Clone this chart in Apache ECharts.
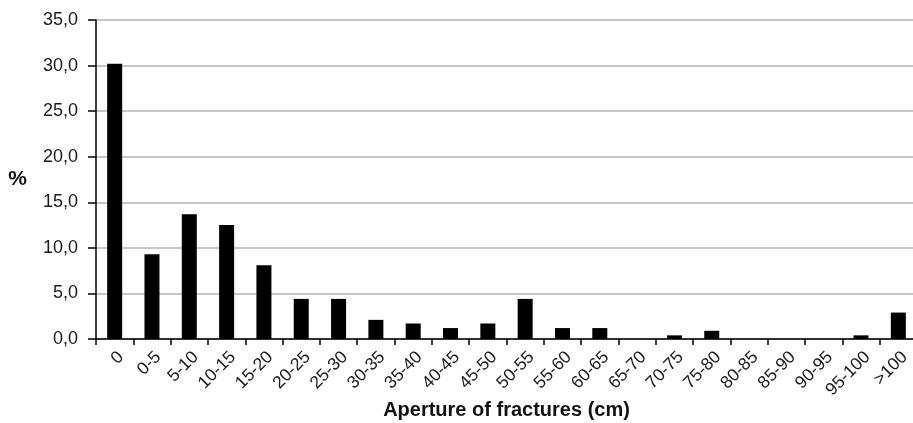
<!DOCTYPE html>
<html>
<head>
<meta charset="utf-8">
<script src="https://cdn.jsdelivr.net/npm/echarts@6/dist/echarts.min.js"></script>
<style>
html,body{margin:0;padding:0;background:#fff;}
#chart{width:913px;height:423px;}
</style>
</head>
<body>
<div id="chart"></div>
<script>
const categories = ['0','0-5','5-10','10-15','15-20','20-25','25-30','30-35','35-40','40-45','45-50','50-55','55-60','60-65','65-70','70-75','75-80','80-85','85-90','90-95','95-100','>100'];
const percentValues = [30.2, 9.3, 13.7, 12.5, 8.1, 4.4, 4.4, 2.1, 1.7, 1.2, 1.7, 4.4, 1.2, 1.2, 0, 0.4, 0.9, 0, 0, 0, 0.4, 2.9];
const yAxisMin = 0, yAxisMax = 35, yAxisStep = 5;
const xAxisTitle = 'Aperture of fractures (cm)';
const yAxisTitle = '%';

const FONT = 'Liberation Sans, Arial, Helvetica, sans-serif';
const chart = echarts.init(document.getElementById('chart'), null, {renderer: 'canvas'});
chart.setOption({
  animation: false,
  backgroundColor: '#ffffff',
  grid: {left: 96, right: -4, top: 20, bottom: 84, containLabel: false, outerBoundsMode: 'none'},
  xAxis: {
    type: 'category',
    data: categories,
    name: xAxisTitle,
    nameLocation: 'middle',
    nameGap: 61,
    nameMoveOverlap: false,
    nameTextStyle: {fontFamily: FONT, fontSize: 20, fontWeight: 'bold', color: '#111'},
    axisLine: {show: true, lineStyle: {color: '#000', width: 1.5}},
    axisTick: {show: true, alignWithLabel: false, length: 6, lineStyle: {color: '#000', width: 1.5}},
    axisLabel: {rotate: 45, margin: 9, align: 'right', verticalAlign: 'top',
      fontFamily: FONT, fontSize: 17.5, color: '#1a1a1a', interval: 0},
    splitLine: {show: false}
  },
  yAxis: {
    type: 'value',
    min: yAxisMin,
    max: yAxisMax,
    interval: yAxisStep,
    name: yAxisTitle,
    nameLocation: 'middle',
    nameRotate: 0,
    nameGap: 69,
    nameMoveOverlap: false,
    nameTextStyle: {fontFamily: FONT, fontSize: 21, fontWeight: 'bold', color: '#111'},
    axisLine: {show: true, lineStyle: {color: '#000', width: 1.5}},
    axisTick: {show: true, length: 8, lineStyle: {color: '#000', width: 1.5}},
    axisLabel: {margin: 18, fontFamily: FONT, fontSize: 18, color: '#1a1a1a',
      formatter: v => v.toFixed(1).replace('.', ',')},
    splitLine: {show: true, lineStyle: {color: '#b3b3b3', width: 1.5}}
  },
  series: [{
    type: 'bar',
    data: percentValues,
    barWidth: 15,
    itemStyle: {color: '#000'},
    z: 3
  }]
});
</script>
</body>
</html>
